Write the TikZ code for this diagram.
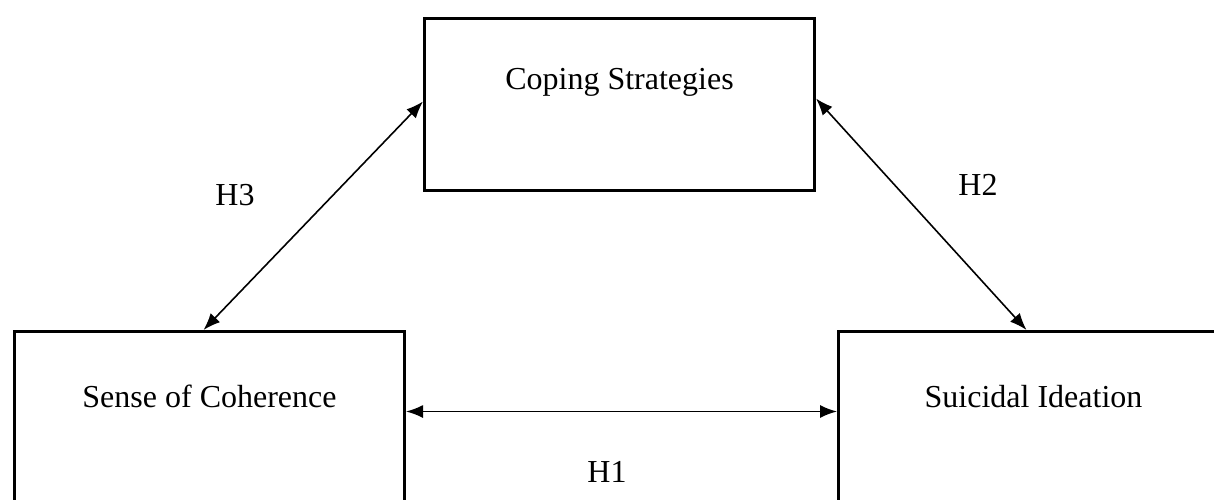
\documentclass[tikz,border=0pt]{standalone}
\usepackage{fontspec}
\setmainfont{Liberation Serif}
\usetikzlibrary{arrows.meta, positioning}
\tikzstyle{block}=[draw,fill=white,rectangle,line width=3pt,minimum width=390pt,inner sep=0pt,anchor=north west]
\tikzstyle{every node}=[font=\fontsize{32pt}{38pt}\selectfont]
\tikzstyle{link}=[<->,line width=1.6pt]

\begin{document}
\begin{tikzpicture}[x=1pt,y=1pt,>={Latex[length=17pt,width=13pt]}]
  \useasboundingbox (0,-500) rectangle (1214,0);
  \node[block, text height=71pt, text depth=101pt] (coping) at (423,-17) {Coping Strategies};
  \node[block, text height=76pt, text depth=96pt] (sense) at (13,-330) {Sense of Coherence};
  \node[block, text height=76pt, text depth=96pt] (ideation) at (837,-330) {Suicidal Ideation};
  \node (h3) at (235,-195) {H3};
  \node (h2) at (978,-185) {H2};
  \node (h1) at (607,-472) {H1};
  \draw[link] ([yshift=3pt]coping.west) -- ([xshift=-6pt]sense.north);
  \draw[link] ([yshift=6pt]coping.east) -- ([xshift=-7pt]ideation.north);
  \draw[link] ([yshift=6pt]sense.east) -- ([yshift=6pt]ideation.west);
\end{tikzpicture}
\end{document}
